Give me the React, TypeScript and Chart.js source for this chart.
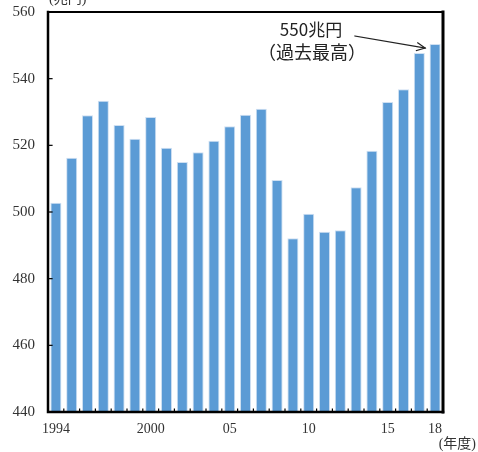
import React, { useEffect, useRef } from "react";
import { Chart, registerables } from "chart.js";

Chart.register(...registerables);

const years = [1994, 1995, 1996, 1997, 1998, 1999, 2000, 2001, 2002, 2003, 2004, 2005, 2006, 2007, 2008, 2009, 2010, 2011, 2012, 2013, 2014, 2015, 2016, 2017, 2018];
const gdp = [502.8, 516.3, 529.0, 533.4, 526.1, 522.0, 528.5, 519.3, 515.0, 517.9, 521.4, 525.7, 529.2, 531.0, 509.6, 492.1, 499.5, 494.1, 494.5, 507.4, 518.4, 533.0, 536.8, 547.7, 550.4];
const xTickLabels = ["1994", "", "", "", "", "", "2000", "", "", "", "", "05", "", "", "", "", "10", "", "", "", "", "15", "", "", "18"];
const yMin = 440;
const yMax = 560;
const yStep = 20;
const unitLabel = "(兆円)";
const xUnitLabel = "(年度)";
const noteLines = ["550兆円", "（過去最高）"];

const framePlugin = {
  id: "frame",
  afterDraw(chart: any) {
    const { ctx, chartArea } = chart;
    const { left, right, top, bottom } = chartArea;
    const ys = chart.scales.y;
    const xs = chart.scales.x;
    ctx.save();
    ctx.strokeStyle = "#000";
    ctx.lineCap = "square";
    ctx.lineWidth = 1.8;
    ctx.beginPath();
    ctx.moveTo(left, top);
    ctx.lineTo(right, top);
    ctx.stroke();
    ctx.lineWidth = 3;
    ctx.beginPath();
    ctx.moveTo(right, top);
    ctx.lineTo(right, bottom);
    ctx.stroke();
    ctx.lineWidth = 2.5;
    ctx.beginPath();
    ctx.moveTo(left, top);
    ctx.lineTo(left, bottom);
    ctx.lineTo(right, bottom);
    ctx.stroke();
    ctx.lineWidth = 1.2;
    for (let v = yMin + yStep; v < yMax; v += yStep) {
      const y = ys.getPixelForValue(v);
      ctx.beginPath();
      ctx.moveTo(left, y);
      ctx.lineTo(left + 4, y);
      ctx.stroke();
    }
    const w = (right - left) / years.length;
    for (let i = 1; i < years.length; i++) {
      const x = left + w * i;
      ctx.beginPath();
      ctx.moveTo(x, bottom);
      ctx.lineTo(x, bottom - 3);
      ctx.stroke();
    }
    ctx.fillStyle = "#333";
    ctx.font = "14px 'Liberation Serif', 'Noto Sans CJK JP'";
    ctx.textAlign = "left";
    ctx.textBaseline = "bottom";
    ctx.fillText(unitLabel, left + 1, top - 6);
    ctx.textAlign = "right";
    ctx.fillText(xUnitLabel, 476, 451);
    const lastIdx = gdp.length - 1;
    const bx = xs.getPixelForValue(lastIdx);
    const by = ys.getPixelForValue(gdp[lastIdx]);
    const ex = bx - 10;
    const ey = by + 4;
    const sx = 355;
    const sy = 36;
    ctx.strokeStyle = "#222";
    ctx.lineWidth = 1.2;
    ctx.beginPath();
    ctx.moveTo(sx, sy);
    ctx.lineTo(ex, ey);
    ctx.stroke();
    const ang = Math.atan2(ey - sy, ex - sx);
    const ah = 9;
    ctx.beginPath();
    ctx.moveTo(ex - ah * Math.cos(ang - 0.45), ey - ah * Math.sin(ang - 0.45));
    ctx.lineTo(ex, ey);
    ctx.lineTo(ex - ah * Math.cos(ang + 0.45), ey - ah * Math.sin(ang + 0.45));
    ctx.stroke();
    ctx.fillStyle = "#222";
    ctx.textAlign = "center";
    ctx.textBaseline = "middle";
    ctx.font = "17px 'Noto Sans CJK JP'";
    ctx.fillText(noteLines[0], 311, 30);
    ctx.font = "18px 'Noto Sans CJK JP'";
    ctx.fillText(noteLines[1], 312, 52);
    ctx.restore();
  },
};

export default function App() {
  const ref = useRef<HTMLCanvasElement | null>(null);
  useEffect(() => {
    if (!ref.current) return;
    const chart = new Chart(ref.current, {
      type: "bar",
      data: {
        labels: years.map(String),
        datasets: [
          {
            data: gdp,
            backgroundColor: "#5B9BD5",
            borderColor: "#cfe0f2",
            borderWidth: 1,
            barPercentage: 0.7,
            categoryPercentage: 1,
          },
        ],
      },
      options: {
        responsive: false,
        animation: false,
        layout: { padding: { top: 12, right: 35, left: 0, bottom: 0 } },
        plugins: { legend: { display: false }, tooltip: { enabled: false } },
        scales: {
          x: {
            grid: { display: false, drawTicks: false },
            border: { display: false },
            ticks: {
              autoSkip: false,
              maxRotation: 0,
              padding: 9,
              color: "#333",
              font: { family: "'Liberation Serif'", size: 14 },
              callback: (_v: any, i: number) => xTickLabels[i],
            },
            afterFit: (s: any) => {
              s.height = 40;
              s.paddingLeft = 0;
              s.paddingRight = 0;
            },
          },
          y: {
            min: yMin,
            max: yMax,
            grid: { display: false, drawTicks: false },
            border: { display: false },
            ticks: {
              stepSize: yStep,
              padding: 13,
              color: "#333",
              font: { family: "'Liberation Serif'", size: 15 },
            },
            afterFit: (s: any) => {
              s.width = 48;
              s.paddingTop = 0;
              s.paddingBottom = 0;
            },
          },
        },
      },
      plugins: [framePlugin],
    });
    return () => chart.destroy();
  }, []);
  return (
    <div style={{ position: "fixed", left: 0, top: 0, width: 478, height: 452, background: "#fff" }}>
      <canvas ref={ref} width={478} height={452} style={{ display: "block" }} />
    </div>
  );
}
